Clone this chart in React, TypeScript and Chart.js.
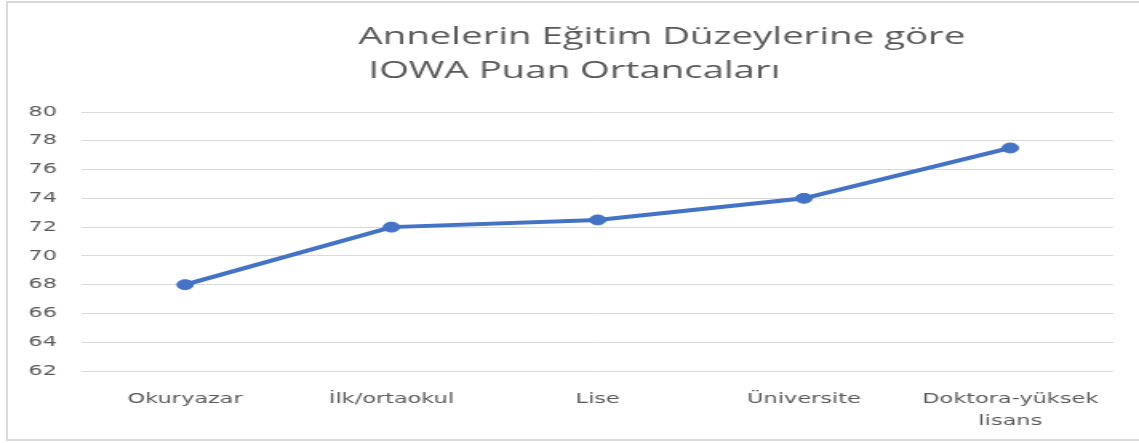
import React, { useEffect, useRef } from "react";
import { Chart, registerables } from "chart.js";

Chart.register(...registerables);

const titleLines = ["Annelerin Eğitim Düzeylerine göre", " IOWA Puan Ortancaları"];
const categories: (string | string[])[] = [
  "Okuryazar",
  "İlk/ortaokul",
  "Lise",
  "Üniversite",
  ["Doktora-yüksek", "lisans"],
];
const medians = [68, 72, 72.5, 74, 77.5];
const yMin = 62;
const yMax = 80;
const yStep = 2;

const STRETCH = 1.6;
const NAT_W = Math.round(1139 / STRETCH);
const NAT_H = 443;
const TITLE_FONT = "'Open Sans', 'Noto Sans', sans-serif";
const TICK_FONT = "'DejaVu Sans', 'Open Sans', sans-serif";
const TEXT = "#595959";
const BLUE = "#4472C4";
const GRID = "#d9d9d9";

const titlePlugin = {
  id: "leftTitle",
  afterDraw(chart: any) {
    const ctx = chart.ctx as CanvasRenderingContext2D;
    ctx.save();
    ctx.fillStyle = TEXT;
    ctx.font = `24px ${TITLE_FONT}`;
    ctx.textAlign = "left";
    ctx.textBaseline = "alphabetic";
    ctx.fillText(titleLines[0], 224, 44);
    ctx.fillText(titleLines[1], 224, 78);
    ctx.restore();
  },
};

export default function App() {
  const ref = useRef<HTMLCanvasElement | null>(null);
  useEffect(() => {
    if (!ref.current) return;
    const chart = new Chart(ref.current, {
      type: "line",
      data: {
        labels: categories,
        datasets: [
          {
            data: medians,
            borderColor: BLUE,
            backgroundColor: BLUE,
            borderWidth: 4,
            pointRadius: 5,
            pointBorderWidth: 1,
            pointBackgroundColor: BLUE,
            pointBorderColor: BLUE,
            tension: 0,
          },
        ],
      },
      options: {
        responsive: false,
        animation: false,
        devicePixelRatio: 1,
        layout: { padding: { top: 112, left: 2.25, right: 16, bottom: -6.4 } },
        plugins: {
          legend: { display: false },
          title: { display: false },
          tooltip: { enabled: false },
        },
        scales: {
          x: {
            offset: true,
            grid: { display: false, drawTicks: false },
            border: { display: false },
            ticks: {
              color: TEXT,
              padding: 17.5,
              maxRotation: 0,
              autoSkip: false,
              font: { family: TICK_FONT, size: 14, lineHeight: 1.55 },
            },
            afterFit: (scale: any) => {
              scale.paddingLeft = 0;
              scale.paddingRight = 0;
            },
          },
          y: {
            min: yMin,
            max: yMax,
            grid: { color: GRID, lineWidth: 1, drawTicks: false },
            border: { display: false },
            ticks: {
              stepSize: yStep,
              color: TEXT,
              padding: 15.6,
              font: { family: TICK_FONT, size: 14 },
            },
          },
        },
      },
      plugins: [titlePlugin],
    });
    return () => chart.destroy();
  }, []);

  return (
    <div
      style={{
        position: "absolute",
        left: 0,
        top: 0,
        width: 1139,
        height: 443,
        overflow: "hidden",
        background: "#ffffff",
      }}
    >
      <div
        style={{
          position: "absolute",
          left: 6,
          top: 1,
          width: 1200,
          height: 440,
          boxSizing: "border-box",
          border: "2px solid #d9d9d9",
        }}
      />
      <div
        style={{
          position: "absolute",
          left: 0,
          top: 0,
          width: NAT_W,
          height: NAT_H,
          transform: `scaleX(${1139 / NAT_W})`,
          transformOrigin: "0 0",
        }}
      >
        <canvas
          ref={ref}
          width={NAT_W}
          height={NAT_H}
          style={{ width: NAT_W, height: NAT_H, display: "block" }}
        />
      </div>
    </div>
  );
}
